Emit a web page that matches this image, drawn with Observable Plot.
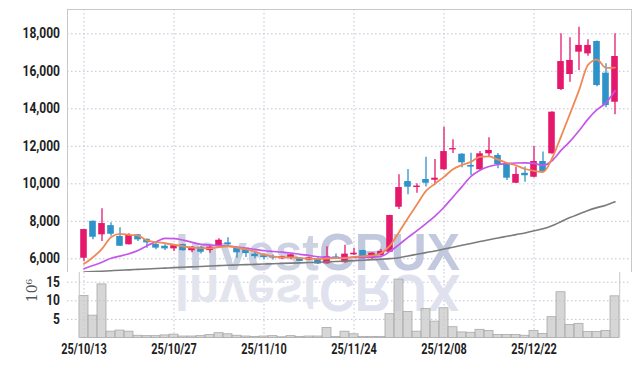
<!DOCTYPE html>
<html><head><meta charset="utf-8">
<script src="https://cdn.jsdelivr.net/npm/d3@7"></script>
<script src="https://cdn.jsdelivr.net/npm/@observablehq/plot@0.6"></script>
<style>
html,body{margin:0;padding:0;background:#fff;}
#chart svg{display:block;}
</style></head><body><div id="chart"></div>
<script>
const dates = ["25/10/13","25/10/14","25/10/15","25/10/16","25/10/17","25/10/20","25/10/21","25/10/22","25/10/23","25/10/24",
"25/10/27","25/10/28","25/10/29","25/10/30","25/10/31","25/11/03","25/11/04","25/11/05","25/11/06","25/11/07",
"25/11/10","25/11/11","25/11/12","25/11/13","25/11/14","25/11/17","25/11/18","25/11/19","25/11/20","25/11/21",
"25/11/24","25/11/25","25/11/26","25/11/27","25/11/28","25/12/01","25/12/02","25/12/03","25/12/04","25/12/05",
"25/12/08","25/12/09","25/12/10","25/12/11","25/12/12","25/12/15","25/12/16","25/12/17","25/12/18","25/12/19",
"25/12/22","25/12/23","25/12/24","25/12/26","25/12/29","25/12/30","26/01/02","26/01/05","26/01/06","26/01/07"];
const openP = [6030,8000,7280,7770,7190,6750,7280,7040,6760,6670, 6530,6760,6430,6620,6440,6640,6850,6570,6500,6250,
 6160,6110,6000,6050,6030,5930,6000,5730,6100,5790, 6210,6440,6000,6180,6350,8750,10120,9800,10230,10190,
 10750,11810,11580,10980,10750,11600,11510,11070,10030,10560, 10350,11190,11600,15030,15830,17020,16930,17590,15900,14350];
const highP = [7580,8010,8670,7920,7650,7330,7300,7060,6840,6750, 6740,6780,6650,6640,6650,7070,7120,6580,6550,6350,
 6250,6200,6140,6250,6050,6080,6050,6640,6250,6720, 6560,6450,6320,6500,8320,10480,10760,10000,11420,11300,
 13020,12350,11600,11630,11720,12450,11620,11100,10890,10900, 11990,11690,13840,18000,17790,18350,17680,17620,16400,18000];
const lowP = [5860,7010,6920,7200,6660,6740,6920,6560,6480,6440, 6390,6420,6320,6250,6300,6620,6640,6030,6070,6000,
 5930,5930,5950,5960,5850,5900,5700,5720,5980,5780, 6180,5990,5980,6150,6340,8630,9410,9500,9830,9950,
 10720,11620,10850,10440,10660,11450,10800,10180,10020,10080, 10320,10640,11580,14980,15420,16040,16800,15170,14050,13680];
const closeP = [7560,7150,7880,7310,6670,7240,7010,6850,6570,6530, 6700,6430,6620,6350,6620,6990,6750,6320,6280,6120,
 6070,6040,6110,6210,5860,6050,5720,6110,6020,6250, 6300,6000,6300,6390,8310,9800,9820,9880,10030,10300,
 11720,11880,11120,10890,11600,11780,11030,10300,10500,10430, 11190,10660,13820,16520,16580,17380,17380,15240,14180,16790];
const ma5 = [5730,6085,6530,7150,7330,7280,7240,6980,6890,6830, 6750,6670,6600,6570,6560,6620,6670,6590,6500,6380,
 6220,6130,6080,6080,6040,6010,6000,6010,6040,6040, 6100,6140,6170,6300,6700,7420,8180,8900,9620,10000,
 10370,10780,11010,11170,11440,11460,11290,11110,10990,10790, 10690,10630,11350,12520,13740,14980,16340,16620,16180,16200];
const ma10 = [5470,5640,5820,6030,6140,6270,6440,6700,6900,7090, 7080,7000,6880,6770,6730,6700,6680,6630,6570,6500,
 6430,6390,6360,6310,6240,6180,6110,6080,6050,6060, 6080,6080,6100,6130,6400,6760,7140,7500,7880,8280,
 8750,9300,9850,10390,10720,10920,11030,11080,11110,11120, 11090,10980,11230,11780,12260,12830,13450,13950,14320,14960];
const ma60 = [5290,5315,5340,5365,5390,5410,5435,5460,5480,5505, 5530,5550,5570,5590,5615,5635,5655,5670,5690,5705,
 5720,5740,5755,5770,5785,5800,5815,5835,5855,5880, 5905,5925,5950,5975,6010,6060,6150,6240,6330,6420,
 6520,6620,6720,6820,6920,7020,7110,7200,7290,7380, 7500,7600,7760,7980,8200,8390,8580,8730,8860,9040];
const volume = [11.3,6.0,14.4,1.7,2.0,1.7,0.6,0.5,0.5,0.7, 0.9,0.4,0.4,0.5,0.8,1.3,1.0,0.6,0.4,0.3,
 0.4,0.5,0.2,0.5,0.3,0.4,0.4,2.7,0.3,1.7, 1.0,0.3,0.3,0.3,6.4,15.7,7.0,1.7,7.8,4.4,
 8.0,2.9,1.5,1.4,2.2,1.9,0.8,0.8,0.8,0.6, 1.9,1.1,5.6,12.3,3.5,3.8,1.6,1.6,1.9,11.2];
const xTicks = ["25/10/13","25/10/27","25/11/10","25/11/24","25/12/08","25/12/22"];
const yTicks = [6000,8000,10000,12000,14000,16000,18000];
const volTicks = [5,10,15];

const UP = "#e5196c", DOWN = "#2f92c9";
const data = dates.map((d,i)=>({date:d, open:openP[i], high:highP[i], low:lowP[i], close:closeP[i],
  ma5:ma5[i], ma10:ma10[i], ma60:ma60[i], vol:volume[i]}));
const col = d => d.close >= d.open ? UP : DOWN;
const FONT = "Roboto,'Liberation Sans',Arial,sans-serif";
const GRID = "#bfc4d6";

function watermark(flip, c1, c2){
  return () => {
    const g = d3.create("svg:g").attr("pointer-events","none");
    const t = g.append("text")
      .attr("transform", flip ? "translate(175,3) scale(1,-1)" : "translate(175,270)")
      .attr("text-anchor","start")
      .attr("font-family","'Liberation Sans',Arial,sans-serif")
      .attr("font-weight","bold").attr("font-size",52)
      .attr("textLength",285).attr("lengthAdjust","spacingAndGlyphs");
    t.append("tspan").attr("fill",c1).text("Invest");
    t.append("tspan").attr("fill",c2).text("CRUX");
    return g.node();
  };
}

const xScale = {type:"band", domain:dates, padding:0};
const W = 639, ML = 67, MR = 8;

const price = Plot.plot({
  width:W, height:272, marginTop:9, marginBottom:0, marginLeft:ML, marginRight:MR,
  style:{fontFamily:FONT, fontSize:"14px", fontWeight:"bold", color:"#1e1e1e", background:"#fff"},
  x:{...xScale, axis:null},
  y:{domain:[5270,19296], ticks:yTicks, tickFormat:d3.format(","), tickSize:0, tickPadding:7.5, label:null},
  marks:[
    Plot.ruleY(yTicks, {y:d=>d, stroke:GRID, strokeDasharray:"1.5,2.5"}),
    Plot.ruleX(xTicks, {x:d=>d, stroke:GRID, strokeDasharray:"1.5,2.5"}),
    watermark(false, "#cdd2e3", "#c2c9df"),
    Plot.ruleX(data, {x:"date", y1:"low", y2:"high", stroke:col, strokeWidth:1.3}),
    Plot.barY(data, {x:"date", y1:"open", y2:"close", fill:col, insetLeft:1.2, insetRight:1.2}),
    Plot.line(data, {x:"date", y:"ma60", stroke:"#7b7b7b", strokeWidth:1.6, curve:"monotone-x"}),
    Plot.line(data, {x:"date", y:"ma10", stroke:"#c656ea", strokeWidth:1.7, curve:"monotone-x"}),
    Plot.line(data, {x:"date", y:"ma5", stroke:"#ee8a55", strokeWidth:1.8, curve:"monotone-x"}),
    Plot.frame({stroke:"#c9c9c9"})
  ]
});

const vol = Plot.plot({
  width:W, height:94, marginTop:0, marginBottom:28.5, marginLeft:ML, marginRight:MR,
  style:{fontFamily:FONT, fontSize:"14px", fontWeight:"bold", color:"#1e1e1e", background:"#fff", overflow:"visible"},
  x:{...xScale, ticks:xTicks, tickFormat:d=>xTicks.includes(d)?d:"", tickSize:0, tickPadding:6, label:null},
  y:{domain:[0,17.6], ticks:volTicks, tickSize:0, tickPadding:7.5, label:null},
  marks:[
    Plot.ruleY(volTicks, {y:d=>d, stroke:GRID, strokeDasharray:"1.5,2.5"}),
    Plot.ruleX(xTicks, {x:d=>d, stroke:GRID, strokeDasharray:"1.5,2.5"}),
    watermark(true, "#e3e5ee", "#dfe2ee"),
    Plot.barY(data, {x:"date", y:"vol", fill:"#c8c8c8", fillOpacity:0.75, stroke:"#a9a9a9", strokeWidth:0.8}),
    Plot.ruleX([dates[0]], {x:d=>d, dx:-4.7, stroke:"#c9c9c9"}),
    Plot.ruleX([dates[dates.length-1]], {x:d=>d, dx:4.7, stroke:"#c9c9c9"}),
    Plot.text(["10\u2076"], {text:d=>d, frameAnchor:"left", dx:-35, dy:-3, rotate:-90,
      fontWeight:"normal", fontSize:14, fill:"#555", fontFamily:"'DejaVu Serif',serif"})
  ]
});

document.getElementById("chart").append(price, vol);

// condense the tick labels to match the narrow face of the original
function squeeze(svg, sel, f){
  svg.querySelectorAll(sel).forEach(t => {
    const L = t.getComputedTextLength();
    if (L > 0) { t.setAttribute("textLength", (L*f).toFixed(1)); t.setAttribute("lengthAdjust","spacingAndGlyphs"); }
  });
}
squeeze(price, 'g[aria-label^="y-axis"] text', 0.86);
squeeze(vol, 'g[aria-label^="y-axis"] text', 0.86);
squeeze(vol, 'g[aria-label^="x-axis"] text', 0.78);
</script>
</body></html>
